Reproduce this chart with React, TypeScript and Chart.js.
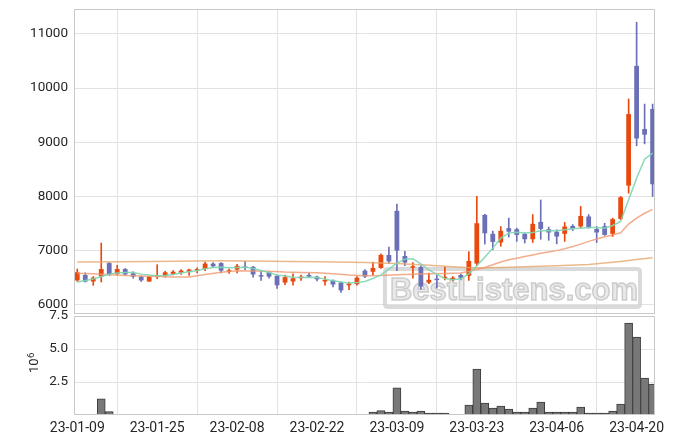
import React, { useEffect, useRef } from "react";
import { Chart, registerables } from "chart.js";

Chart.register(...registerables);

const dates = [
  "23-01-09","23-01-10","23-01-11","23-01-12","23-01-13","23-01-16","23-01-17","23-01-18","23-01-19","23-01-20",
  "23-01-25","23-01-26","23-01-27","23-01-30","23-01-31","23-02-01","23-02-02","23-02-03","23-02-06","23-02-07",
  "23-02-08","23-02-09","23-02-10","23-02-13","23-02-14","23-02-15","23-02-16","23-02-17","23-02-20","23-02-21",
  "23-02-22","23-02-23","23-02-24","23-02-27","23-02-28","23-03-02","23-03-03","23-03-06","23-03-07","23-03-08",
  "23-03-09","23-03-10","23-03-13","23-03-14","23-03-15","23-03-16","23-03-17","23-03-20","23-03-21","23-03-22",
  "23-03-23","23-03-24","23-03-27","23-03-28","23-03-29","23-03-30","23-03-31","23-04-03","23-04-04","23-04-05",
  "23-04-06","23-04-07","23-04-10","23-04-11","23-04-12","23-04-13","23-04-14","23-04-17","23-04-18","23-04-19",
  "23-04-20","23-04-21","23-04-24",
];

const opens = [
  6450,6550,6430,6520,6770,6570,6660,6580,6520,6430,
  6520,6540,6570,6590,6610,6630,6660,6760,6770,6610,
  6650,6700,6700,6540,6600,6535,6410,6430,6490,6550,
  6520,6430,6450,6410,6360,6380,6630,6610,6680,6920,
  7735,6900,6685,6700,6410,6470,6490,6460,6550,6535,
  6760,7660,7310,7150,7415,7395,7310,7210,7530,7395,
  7350,7310,7455,7445,7630,7400,7450,7310,7585,8200,
  10410,9245,9615,
];
const highs = [
  6660,6590,6520,7140,6780,6730,6670,6610,6530,6520,
  6740,6620,6630,6650,6660,6680,6790,6780,6780,6660,
  6745,6800,6710,6620,6610,6550,6550,6570,6550,6580,
  6530,6520,6460,6425,6420,6520,6650,6790,6940,7065,
  7860,6985,6780,6720,6585,6550,6700,6520,6570,6980,
  8000,7670,7360,7445,7600,7415,7325,7665,7935,7435,
  7385,7520,7480,7815,7665,7445,7505,7600,8000,9800,
  11215,9705,9705,
];
const lows = [
  6430,6420,6360,6420,6540,6550,6550,6490,6430,6430,
  6480,6510,6550,6560,6540,6590,6630,6690,6590,6580,
  6590,6650,6510,6450,6490,6300,6370,6360,6450,6500,
  6440,6360,6330,6230,6280,6360,6500,6540,6670,6770,
  6630,6720,6490,6290,6390,6310,6460,6440,6460,6450,
  6720,7120,7015,7080,7250,7170,7140,7150,7210,7190,
  7125,7170,7370,7425,7415,7150,7280,7260,7570,8060,
  8935,8970,8000,
];
const closes = [
  6600,6430,6500,6660,6550,6660,6560,6520,6450,6520,
  6550,6600,6610,6630,6650,6660,6760,6710,6630,6625,
  6720,6680,6560,6520,6520,6360,6510,6490,6520,6520,
  6470,6440,6375,6265,6390,6500,6520,6680,6920,6800,
  7000,6780,6700,6340,6460,6455,6510,6500,6500,6810,
  7505,7320,7160,7365,7350,7290,7210,7495,7400,7335,
  7260,7445,7400,7640,7425,7335,7290,7580,7985,9520,
  9070,9140,8225,
];

// volume in units of 10^6
const volumes = [
  0.06,0.06,null,1.23,0.25,0.06,null,null,null,null,
  0.06,0.06,null,null,null,null,0.06,0.06,0.06,null,
  0.06,null,0.06,null,0.06,0.06,null,0.06,null,null,
  null,null,0.06,0.06,0.06,0.06,0.06,0.22,0.33,0.22,
  2.05,0.3,0.22,0.3,0.15,0.15,0.15,0.06,0.06,0.76,
  3.48,0.91,0.53,0.68,0.45,0.22,0.22,0.53,0.98,0.22,
  0.22,0.22,0.22,0.6,0.15,0.15,0.15,0.3,0.83,6.97,
  5.9,2.8,2.35,
];

const ma5 = [
  6419,6448,6474,6522,6566,6585,6596,6596,6566,6548,
  6535,6540,6560,6585,6609,6633,6664,6689,6695,6683,
  6689,6695,6670,6633,6596,6548,6530,6510,6504,6510,
  6504,6474,6443,6419,6400,6412,6430,6485,6553,6659,
  6769,6843,6849,6756,6646,6560,6485,6461,6480,6572,
  6720,6880,7046,7230,7323,7341,7323,7334,7365,7371,
  7365,7384,7402,7414,7426,7426,7414,7463,7537,7937,
  8338,8688,8799,
];

const ma20Idx = [0,2,4,6,8,10,12,14,16,18,20,22,24,26,28,30,32,34,36,38,40,42,44,46,48,
  49,50,51,52,53,54,55,56,57,58,59,60,61,62,63,64,65,66,67,68,69,70,71,72];
const ma20Val = [6580,6572,6555,6540,6532,6520,6512,6515,6560,6600,6630,6625,6620,6605,6598,6590,6575,6548,6535,6540,6553,6566,6572,6578,6585,
  6620,6650,6690,6740,6790,6830,6860,6890,6920,6950,6975,7000,7035,7075,7120,7170,7215,7255,7290,7330,7490,7600,7690,7760];

const ma60Idx = [0,6,12,18,24,30,36,40,44,48,50,53,56,60,64,66,68,70,72];
const ma60Val = [6790,6795,6805,6812,6805,6795,6780,6760,6730,6695,6680,6690,6700,6720,6745,6770,6800,6835,6870];

const xTickIdx = [0,10,20,30,40,50,60,70];
const priceTicks = [6000,7000,8000,9000,10000,11000];
const volTicks = [2.5,5,7.5];

const UP = "#e8490f";
const DOWN = "#6b70b6";
const X_MIN = -0.41;
const X_MAX = 72.3;
const GRID = "#e2e2e2";
const TICK = "#262626";
const FONT = "Roboto";

const framePlugin = {
  id: "frame",
  afterDraw(chart: any) {
    const { ctx, chartArea: a } = chart;
    ctx.save();
    ctx.strokeStyle = "#c9c9c9";
    ctx.lineWidth = 1;
    ctx.strokeRect(Math.round(a.left) + 0.5, Math.round(a.top) + 0.5, Math.round(a.right - a.left) - 1, Math.round(a.bottom - a.top) - 1);
    ctx.restore();
  },
};

const watermarkPlugin = {
  id: "watermark",
  beforeDatasetsDraw(chart: any) {
    const { ctx } = chart;
    ctx.save();
    ctx.strokeStyle = "rgba(205,205,205,0.75)";
    ctx.lineWidth = 4;
    const x = 385, y = 269, w = 255, h = 38, r = 3;
    ctx.beginPath();
    ctx.moveTo(x + r, y);
    ctx.lineTo(x + w - r, y);
    ctx.quadraticCurveTo(x + w, y, x + w, y + r);
    ctx.lineTo(x + w, y + h - r);
    ctx.quadraticCurveTo(x + w, y + h, x + w - r, y + h);
    ctx.lineTo(x + r, y + h);
    ctx.quadraticCurveTo(x, y + h, x, y + h - r);
    ctx.lineTo(x, y + r);
    ctx.quadraticCurveTo(x, y, x + r, y);
    ctx.closePath();
    ctx.stroke();
    ctx.font = 'bold 31px "Liberation Sans"';
    ctx.textAlign = "center";
    ctx.textBaseline = "alphabetic";
    ctx.fillStyle = "rgba(228,228,228,0.8)";
    ctx.fillText("BestListens.com", 514, 300);
    ctx.strokeStyle = "rgba(195,195,195,0.8)";
    ctx.lineWidth = 1.5;
    ctx.strokeText("BestListens.com", 514, 300);
    ctx.restore();
  },
};

const expLabelPlugin = {
  id: "expLabel",
  afterDraw(chart: any) {
    const { ctx } = chart;
    ctx.save();
    ctx.translate(38, 373 - chart.canvas.offsetTop);
    ctx.rotate(-Math.PI / 2);
    ctx.fillStyle = TICK;
    ctx.textBaseline = "alphabetic";
    ctx.textAlign = "left";
    ctx.font = `13px ${FONT}`;
    ctx.fillText("10", 0, 0);
    const w = ctx.measureText("10").width;
    ctx.font = `9.5px ${FONT}`;
    ctx.fillText("6", w + 0.5, -4.5);
    ctx.restore();
  },
};

function xScale(showLabels: boolean) {
  return {
    type: "linear",
    min: X_MIN,
    max: X_MAX,
    offset: false,
    afterBuildTicks: (s: any) => {
      s.ticks = xTickIdx.map((v) => ({ value: v }));
    },
    afterFit: (s: any) => {
      s.paddingLeft = 0;
      s.paddingRight = 0;
      s.height = showLabels ? 29 : 0;
    },
    grid: { color: GRID, drawTicks: false },
    border: { display: false },
    ticks: {
      display: showLabels,
      autoSkip: false,
      maxRotation: 0,
      padding: 5,
      color: TICK,
      font: { family: FONT, size: 14 },
      callback: (v: any) => dates[Number(v)] ?? "",
    },
  };
}

export default function App() {
  const mainRef = useRef<HTMLCanvasElement | null>(null);
  const volRef = useRef<HTMLCanvasElement | null>(null);

  useEffect(() => {
    document.body.style.margin = "0";
    const idx = closes.map((_, i) => i);
    const colors = idx.map((i) => (closes[i] >= opens[i] ? UP : DOWN));

    const main = new Chart(mainRef.current as HTMLCanvasElement, {
      type: "bar",
      data: {
        datasets: [
          {
            type: "line",
            data: ma5.map((v, i) => ({ x: i, y: v })),
            borderColor: "rgba(128,214,178,0.9)",
            borderWidth: 1.5,
            pointRadius: 0,
            order: 0,
          } as any,
          {
            type: "line",
            data: ma20Idx.map((x, k) => ({ x, y: ma20Val[k] })),
            borderColor: "rgba(240,152,112,0.8)",
            borderWidth: 1.5,
            pointRadius: 0,
            order: 0,
          } as any,
          {
            type: "line",
            data: ma60Idx.map((x, k) => ({ x, y: ma60Val[k] })),
            borderColor: "rgba(230,168,108,0.8)",
            borderWidth: 1.5,
            pointRadius: 0,
            order: 0,
          } as any,
          {
            type: "bar",
            data: idx.map((i) => ({ x: i, y: [opens[i], closes[i]] })),
            backgroundColor: colors,
            borderWidth: 0,
            barPercentage: 0.6,
            categoryPercentage: 1,
            grouped: false,
            minBarLength: 1.5,
            order: 1,
          } as any,
          {
            type: "bar",
            data: idx.map((i) => ({ x: i, y: [lows[i], highs[i]] })),
            backgroundColor: colors,
            borderWidth: 0,
            barThickness: 1,
            grouped: false,
            order: 2,
          } as any,
        ],
      },
      options: {
        animation: false,
        responsive: false,
        layout: { padding: { left: 0, right: 20, top: 9, bottom: 2 }, autoPadding: false } as any,
        plugins: { legend: { display: false }, tooltip: { enabled: false } },
        scales: {
          x: xScale(false) as any,
          y: {
            type: "linear",
            min: 5830,
            max: 11460,
            afterBuildTicks: (s: any) => {
              s.ticks = priceTicks.map((v) => ({ value: v }));
            },
            afterFit: (s: any) => {
              s.width = 74;
              s.paddingTop = 0;
              s.paddingBottom = 0;
            },
            grid: { color: GRID, drawTicks: false },
            border: { display: false },
            ticks: {
              padding: 6,
              color: TICK,
              font: { family: FONT, size: 13.5 },
              callback: (v: any) => String(v),
            },
          },
        },
      },
      plugins: [watermarkPlugin, framePlugin],
    });

    const vol = new Chart(volRef.current as HTMLCanvasElement, {
      type: "bar",
      data: {
        datasets: [
          {
            data: volumes.map((v, i) => ({ x: i, y: v })),
            backgroundColor: "#787878",
            borderColor: "#3c3c3c",
            borderWidth: 1,
            barPercentage: 1,
            categoryPercentage: 1,
          } as any,
        ],
      },
      options: {
        animation: false,
        responsive: false,
        layout: { padding: { left: 0, right: 20, top: 16, bottom: 0 }, autoPadding: false } as any,
        plugins: { legend: { display: false }, tooltip: { enabled: false } },
        scales: {
          x: xScale(true) as any,
          y: {
            type: "linear",
            min: 0,
            max: 7.5,
            afterBuildTicks: (s: any) => {
              s.ticks = volTicks.map((v) => ({ value: v }));
            },
            afterFit: (s: any) => {
              s.width = 74;
              s.paddingTop = 0;
              s.paddingBottom = 0;
            },
            grid: { color: GRID, drawTicks: false },
            border: { display: false },
            ticks: {
              padding: 6,
              color: TICK,
              font: { family: FONT, size: 13.5 },
              callback: (v: any) => Number(v).toFixed(1),
            },
          },
        },
      },
      plugins: [framePlugin, expLabelPlugin],
    });

    return () => {
      main.destroy();
      vol.destroy();
    };
  }, []);

  return (
    <div style={{ position: "relative", width: 675, height: 444, background: "#fff" }}>
      <canvas ref={mainRef} width={675} height={316} style={{ position: "absolute", left: 0, top: 0, display: "block" }} />
      <canvas ref={volRef} width={675} height={144} style={{ position: "absolute", left: 0, top: 300, display: "block" }} />
    </div>
  );
}
